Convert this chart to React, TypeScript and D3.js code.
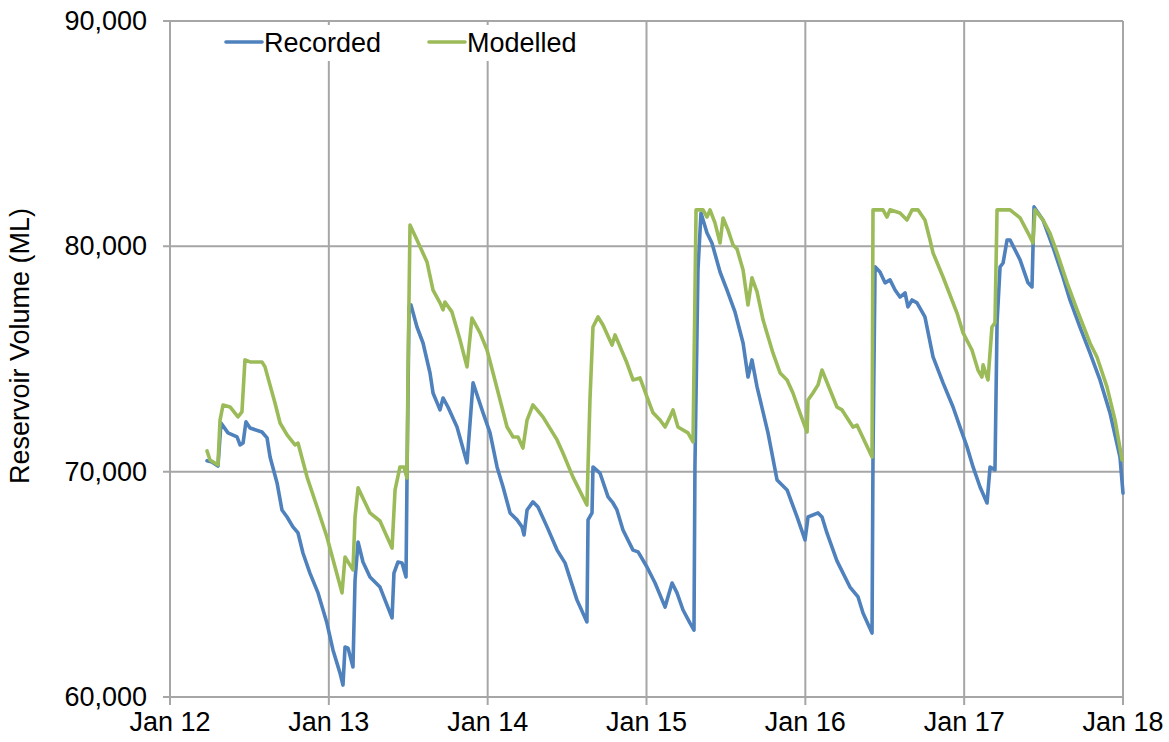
import React from "react";
import * as d3 from "d3";

const yearTicks = [2012, 2013, 2014, 2015, 2016, 2017, 2018];
const xTickLabels = ["Jan 12", "Jan 13", "Jan 14", "Jan 15", "Jan 16", "Jan 17", "Jan 18"];
const yTicks = [60000, 70000, 80000, 90000];
const yTitle = "Reservoir Volume (ML)";
const seriesNames = ["Recorded", "Modelled"];
const seriesColors = ["#4f81bd", "#9bbb59"];

const recordedT = [
  2012.233, 2012.264, 2012.302, 2012.321, 2012.365, 2012.422, 2012.441, 2012.46, 2012.478, 2012.504,
  2012.579, 2012.611, 2012.63, 2012.674, 2012.705, 2012.737, 2012.774, 2012.806, 2012.837, 2012.881,
  2012.932, 2012.988, 2013.026, 2013.07, 2013.089, 2013.102, 2013.121, 2013.152, 2013.165, 2013.184,
  2013.215, 2013.259, 2013.322, 2013.398, 2013.41, 2013.435, 2013.461, 2013.486, 2013.492, 2013.505,
  2013.517, 2013.555, 2013.593, 2013.637, 2013.656, 2013.7, 2013.719, 2013.75, 2013.807, 2013.87,
  2013.908, 2013.971, 2014.015, 2014.059, 2014.097, 2014.141, 2014.185, 2014.216, 2014.229, 2014.248,
  2014.285, 2014.317, 2014.374, 2014.437, 2014.487, 2014.562, 2014.625, 2014.632, 2014.657, 2014.663,
  2014.707, 2014.758, 2014.789, 2014.814, 2014.852, 2014.915, 2014.947, 2015.003, 2015.054, 2015.085,
  2015.117, 2015.135, 2015.161, 2015.192, 2015.23, 2015.274, 2015.299, 2015.305, 2015.324, 2015.343,
  2015.381, 2015.412, 2015.463, 2015.507, 2015.557, 2015.608, 2015.639, 2015.664, 2015.696, 2015.765,
  2015.822, 2015.885, 2015.948, 2015.998, 2016.017, 2016.08, 2016.105, 2016.136, 2016.199, 2016.281,
  2016.332, 2016.363, 2016.42, 2016.426, 2016.439, 2016.47, 2016.502, 2016.533, 2016.565, 2016.596,
  2016.628, 2016.646, 2016.672, 2016.703, 2016.753, 2016.804, 2016.867, 2016.93, 2016.974, 2017.018,
  2017.056, 2017.1, 2017.144, 2017.163, 2017.194, 2017.207, 2017.226, 2017.245, 2017.27, 2017.289,
  2017.352, 2017.402, 2017.427, 2017.44, 2017.496, 2017.559, 2017.622, 2017.666, 2017.729, 2017.792,
  2017.855, 2017.918, 2017.981, 2018.0,
];
const recordedV = [
  70480, 70430, 70250, 72160, 71720, 71540, 71190, 71270, 72210, 71940,
  71760, 71500, 70650, 69500, 68300, 67990, 67550, 67280, 66390, 65500,
  64620, 63280, 62090, 61070, 60530, 62220, 62170, 61330, 65190, 66880,
  65990, 65330, 64880, 63510, 65500, 65990, 65950, 65330, 69630, 77310,
  77400, 76420, 75710, 74380, 73490, 72740, 73270, 72870, 71980, 70390,
  73940, 72610, 71720, 70210, 69320, 68170, 67860, 67550, 67190, 68300,
  68660, 68430, 67550, 66520, 65950, 64310, 63330, 67860, 68170, 70210,
  69940, 68880, 68610, 68300, 67410, 66520, 66440, 65770, 65060, 64530,
  63990, 64440, 65060, 64620, 63860, 63280, 62970, 70210, 78950, 81480,
  80590, 80150, 78860, 78060, 77090, 75710, 74200, 74960, 73760, 71720,
  69630, 69190, 67990, 66970, 67990, 68170, 67990, 67280, 66040, 64880,
  64440, 63730, 62840, 70650, 79090, 78860, 78380, 78510, 78060, 77750,
  77930, 77310, 77620, 77490, 76870, 75090, 73940, 72870, 71980, 71100,
  70210, 69320, 68610, 70210, 70080, 76600, 79090, 79260, 80280, 80280,
  79400, 78380, 78200, 81750, 81170, 79970, 78640, 77620, 76420, 75270,
  74070, 72610, 70650, 69050,
];

const modelledT = [
  2012.233, 2012.252, 2012.302, 2012.315, 2012.334, 2012.378, 2012.428, 2012.453, 2012.472, 2012.504,
  2012.579, 2012.598, 2012.661, 2012.693, 2012.737, 2012.787, 2012.806, 2012.863, 2012.926, 2012.988,
  2013.039, 2013.083, 2013.102, 2013.152, 2013.165, 2013.184, 2013.259, 2013.322, 2013.398, 2013.417,
  2013.448, 2013.473, 2013.492, 2013.498, 2013.511, 2013.555, 2013.618, 2013.656, 2013.7, 2013.719,
  2013.731, 2013.775, 2013.826, 2013.87, 2013.901, 2013.952, 2013.996, 2014.034, 2014.078, 2014.122,
  2014.16, 2014.191, 2014.222, 2014.248, 2014.285, 2014.348, 2014.437, 2014.474, 2014.537, 2014.625,
  2014.644, 2014.663, 2014.695, 2014.726, 2014.783, 2014.802, 2014.877, 2014.915, 2014.959, 2015.003,
  2015.041, 2015.085, 2015.117, 2015.148, 2015.167, 2015.198, 2015.261, 2015.293, 2015.312, 2015.356,
  2015.381, 2015.4, 2015.431, 2015.463, 2015.482, 2015.513, 2015.545, 2015.57, 2015.608, 2015.639,
  2015.664, 2015.696, 2015.734, 2015.796, 2015.841, 2015.885, 2015.922, 2015.966, 2016.011, 2016.017,
  2016.048, 2016.08, 2016.105, 2016.199, 2016.231, 2016.3, 2016.325, 2016.42, 2016.426, 2016.489,
  2016.514, 2016.533, 2016.596, 2016.64, 2016.672, 2016.709, 2016.753, 2016.785, 2016.804, 2016.867,
  2016.955, 2016.993, 2017.049, 2017.087, 2017.112, 2017.119, 2017.15, 2017.175, 2017.194, 2017.207,
  2017.289, 2017.352, 2017.415, 2017.433, 2017.446, 2017.496, 2017.54, 2017.585, 2017.648, 2017.711,
  2017.792, 2017.836, 2017.899, 2017.95, 2017.994,
];
const modelledV = [
  70920, 70520, 70300, 72290, 72960, 72870, 72430, 72650, 74960, 74870,
  74870, 74650, 73050, 72160, 71630, 71190, 71270, 69760, 68430, 67100,
  65770, 64620, 66210, 65640, 67990, 69280, 68170, 67810, 66610, 69190,
  70210, 70210, 69720, 74070, 80950, 80280, 79310, 78060, 77490, 77180,
  77530, 77090, 75850, 74650, 76820, 76160, 75400, 74380, 73180, 71980,
  71540, 71540, 71050, 72290, 72960, 72430, 71410, 70830, 69760, 68520,
  73180, 76420, 76870, 76510, 75620, 76070, 74820, 74070, 74160, 73320,
  72610, 72290, 71980, 72430, 72740, 71980, 71720, 71320, 81620, 81620,
  81300, 81620, 81040, 80150, 81260, 80730, 80060, 79880, 78950, 77400,
  78600, 77980, 76730, 75270, 74380, 74070, 73490, 72610, 71760, 73180,
  73490, 73850, 74510, 72870, 72740, 71980, 72070, 70650, 81620, 81620,
  81300, 81620, 81480, 81170, 81620, 81620, 81170, 80280, 79710, 78640,
  77040, 76160, 75400, 74510, 74200, 74740, 74070, 76420, 76600, 81620,
  81620, 81260, 80420, 80150, 81620, 81170, 80590, 79710, 78380, 77180,
  75710, 75090, 73760, 72290, 70520,
];

const W = 1169;
const H = 742;
const M = { left: 170, right: 1123, top: 21, bottom: 697 };
const FONT = "'Liberation Sans', Arial, Helvetica, sans-serif";
const GRID = "#a6a6a6";

export default function App() {
  const x = d3.scaleLinear().domain([2012, 2018]).range([M.left, M.right]);
  const y = d3.scaleLinear().domain([60000, 90000]).range([M.bottom, M.top]);
  const fmt = d3.format(",");

  const line = d3
    .line<[number, number]>()
    .x((d) => x(d[0]))
    .y((d) => y(d[1]))
    .curve(d3.curveLinear);

  const rec: [number, number][] = recordedT.map((t, i) => [t, recordedV[i]]);
  const mod: [number, number][] = modelledT.map((t, i) => [t, modelledV[i]]);
  const series = [rec, mod];

  const legendItems = [
    { x0: 226, x1: 262, tx: 264 },
    { x0: 429, x1: 465, tx: 467 },
  ];

  return (
    <svg
      width={W}
      height={H}
      style={{ position: "absolute", left: 0, top: 0, background: "#fff" }}
      fontFamily={FONT}
    >
      <rect x={0} y={0} width={W} height={H} fill="#fff" />
      {/* grid lines */}
      {yTicks.map((v) => (
        <line key={"gy" + v} x1={M.left - 7} x2={M.right} y1={y(v)} y2={y(v)} stroke={GRID} strokeWidth={2} />
      ))}
      {yearTicks.map((t) => (
        <line key={"gx" + t} x1={x(t)} x2={x(t)} y1={M.top} y2={M.bottom + 8} stroke={GRID} strokeWidth={2} />
      ))}
      {/* legend background */}
      <rect x={214} y={25} width={378} height={36} fill="#fff" />
      {/* y tick labels */}
      {yTicks.map((v) => (
        <text key={"ty" + v} x={147} y={y(v) + 9} textAnchor="end" fontSize={27} fill="#000">
          {fmt(v)}
        </text>
      ))}
      {/* x tick labels */}
      {yearTicks.map((t, i) => (
        <text key={"tx" + t} x={x(t)} y={731} textAnchor="middle" fontSize={27} fill="#000">
          {xTickLabels[i]}
        </text>
      ))}
      {/* y title */}
      <text
        transform={`translate(29, 346) rotate(-90)`}
        textAnchor="middle"
        fontSize={27}
        fill="#000"
      >
        {yTitle}
      </text>
      {/* series lines */}
      {series.map((s, i) => (
        <path
          key={"s" + i}
          d={line(s) || ""}
          fill="none"
          stroke={seriesColors[i]}
          strokeWidth={3.6}
          strokeLinejoin="round"
          strokeLinecap="round"
        />
      ))}
      {/* legend */}
      {legendItems.map((l, i) => (
        <g key={"lg" + i}>
          <line x1={l.x0} x2={l.x1} y1={42} y2={42} stroke={seriesColors[i]} strokeWidth={3.6} strokeLinecap="round" />
          <text x={l.tx} y={52} fontSize={27} fill="#000">
            {seriesNames[i]}
          </text>
        </g>
      ))}
    </svg>
  );
}
